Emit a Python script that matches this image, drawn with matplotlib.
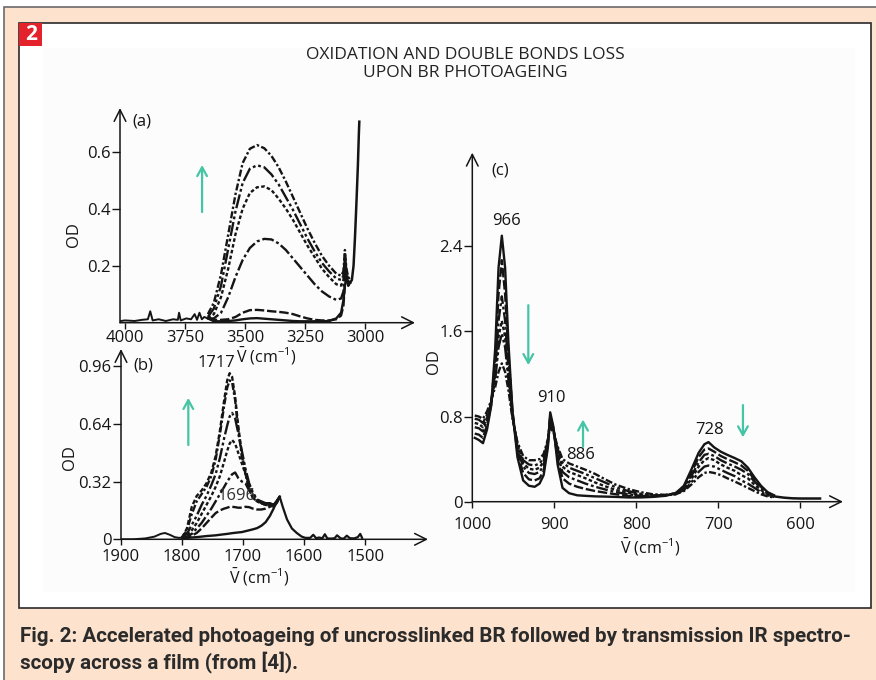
import matplotlib
matplotlib.use("Agg")
import matplotlib.pyplot as plt
from matplotlib.patches import Rectangle

plt.rcParams['font.family'] = ['Open Sans', 'DejaVu Sans']
plt.rcParams['mathtext.fontset'] = 'custom'
plt.rcParams['mathtext.rm'] = 'Open Sans'
plt.rcParams['mathtext.it'] = 'Open Sans:italic'
plt.rcParams['mathtext.bf'] = 'Open Sans:bold'

W, H = 876, 680

# ---------- (a) OH region ----------
a_base_x = [4035, 4000, 3960, 3930, 3905, 3895, 3885, 3860, 3830, 3800, 3780, 3775, 3768, 3745, 3725, 3710, 3700, 3690, 3680, 3670, 3655]
a_base_od = [0.004, 0.008, 0.006, 0.01, 0.012, 0.04, 0.008, 0.012, 0.006, 0.012, 0.01, 0.035, 0.008, 0.015, 0.012, 0.03, 0.01, 0.035, 0.012, 0.02, 0.015]
a_x = [3655, 3630, 3600, 3570, 3540, 3510, 3480, 3450, 3420, 3390, 3360, 3330, 3300, 3270,
       3240, 3210, 3180, 3150, 3120, 3100, 3090, 3084, 3078, 3070, 3062]
a_od = [
    [0.015, 0.005, 0.005, 0.006, 0.008, 0.012, 0.015, 0.016, 0.014, 0.012, 0.01, 0.008, 0.006, 0.005,
     0.005, 0.005, 0.005, 0.006, 0.015, 0.035, 0.08, 0.13, 0.16, 0.14, 0.14],
    [0.015, 0.01, 0.01, 0.012, 0.02, 0.035, 0.044, 0.045, 0.043, 0.04, 0.038, 0.035, 0.03, 0.022,
     0.015, 0.01, 0.008, 0.008, 0.012, 0.025, 0.06, 0.14, 0.15, 0.13, 0.14],
    [0.015, 0.015, 0.035, 0.09, 0.16, 0.22, 0.262, 0.285, 0.294, 0.292, 0.278, 0.255, 0.225, 0.195,
     0.165, 0.135, 0.11, 0.092, 0.08, 0.085, 0.11, 0.2, 0.15, 0.13, 0.14],
    [0.015, 0.03, 0.09, 0.19, 0.31, 0.40, 0.455, 0.475, 0.478, 0.465, 0.435, 0.40, 0.36, 0.315,
     0.27, 0.23, 0.19, 0.16, 0.135, 0.13, 0.15, 0.23, 0.17, 0.14, 0.14],
    [0.02, 0.05, 0.13, 0.26, 0.39, 0.49, 0.54, 0.552, 0.545, 0.52, 0.485, 0.44, 0.395, 0.345,
     0.295, 0.25, 0.21, 0.18, 0.155, 0.15, 0.165, 0.24, 0.18, 0.15, 0.145],
    [0.03, 0.07, 0.17, 0.31, 0.45, 0.56, 0.61, 0.623, 0.612, 0.585, 0.545, 0.495, 0.44, 0.385,
     0.33, 0.28, 0.235, 0.2, 0.172, 0.165, 0.18, 0.255, 0.19, 0.16, 0.15],
]
a_rise_x = [3062, 3055, 3048, 3042, 3036, 3030, 3026, 3024]
a_rise_od = [0.14, 0.15, 0.2, 0.3, 0.42, 0.55, 0.66, 0.705]

# ---------- (b) carbonyl region ----------
b_base_x = [1905, 1880, 1860, 1845, 1835, 1828, 1820, 1812, 1805, 1800]
b_base_od = [0.0, 0.0, 0.005, 0.015, 0.03, 0.035, 0.025, 0.012, 0.008, 0.01]
b_x = [1800, 1792, 1784, 1776, 1768, 1760, 1752, 1745, 1738, 1731, 1726, 1722, 1718,
       1713, 1708, 1702, 1696, 1690, 1684, 1677, 1670, 1663, 1656, 1650, 1645, 1640]
b_od = [
    [0.005, 0.008, 0.01, 0.012, 0.015, 0.018, 0.02, 0.022, 0.025, 0.028, 0.03, 0.032, 0.034,
     0.036, 0.038, 0.04, 0.045, 0.05, 0.055, 0.062, 0.075, 0.095, 0.13, 0.17, 0.21, 0.236],
    [0.005, 0.01, 0.02, 0.035, 0.06, 0.09, 0.12, 0.145, 0.16, 0.17, 0.175, 0.18, 0.18,
     0.178, 0.175, 0.175, 0.18, 0.178, 0.17, 0.165, 0.165, 0.17, 0.18, 0.19, 0.21, 0.236],
    [0.01, 0.015, 0.03, 0.06, 0.09, 0.13, 0.17, 0.21, 0.25, 0.29, 0.32, 0.34, 0.36,
     0.37, 0.34, 0.32, 0.31, 0.27, 0.24, 0.22, 0.2, 0.19, 0.19, 0.18, 0.2, 0.236],
    [0.01, 0.02, 0.05, 0.09, 0.14, 0.19, 0.24, 0.29, 0.35, 0.43, 0.49, 0.53, 0.55,
     0.53, 0.48, 0.42, 0.36, 0.3, 0.25, 0.22, 0.2, 0.19, 0.19, 0.18, 0.2, 0.236],
    [0.01, 0.03, 0.08, 0.13, 0.19, 0.24, 0.30, 0.36, 0.45, 0.56, 0.63, 0.68, 0.70,
     0.67, 0.59, 0.49, 0.39, 0.31, 0.26, 0.22, 0.21, 0.2, 0.2, 0.19, 0.21, 0.236],
    [0.01, 0.05, 0.14, 0.21, 0.25, 0.29, 0.35, 0.44, 0.58, 0.74, 0.84, 0.88, 0.87,
     0.77, 0.61, 0.46, 0.36, 0.28, 0.23, 0.21, 0.2, 0.2, 0.2, 0.19, 0.21, 0.236],
    [0.01, 0.06, 0.18, 0.24, 0.27, 0.31, 0.37, 0.46, 0.60, 0.77, 0.88, 0.92, 0.90,
     0.79, 0.63, 0.47, 0.37, 0.28, 0.23, 0.21, 0.2, 0.2, 0.2, 0.19, 0.21, 0.236],
]
b_tail_x = [1640, 1635, 1628, 1620, 1612, 1604, 1598, 1590, 1585, 1580, 1576, 1570, 1566, 1562,
            1556, 1550, 1546, 1540, 1535, 1530, 1525, 1518, 1512, 1508, 1505]
b_tail_od = [0.236, 0.18, 0.11, 0.06, 0.035, 0.015, 0.008, 0.008, 0.025, 0.005, 0.01, 0.006, 0.028, 0.005,
             0.004, 0.006, 0.022, 0.005, 0.004, 0.02, 0.006, 0.005, 0.012, 0.03, 0.008]

# ---------- (c) C=C region ----------
c_x = [997, 992, 987, 982, 977, 972, 968, 964, 960, 956, 951, 945, 938, 931, 924, 918, 913, 908,
       905, 901, 896, 890, 882, 872, 862, 850, 838, 825, 810, 795, 780, 765, 752, 742, 733, 724,
       717, 712, 705, 697, 689, 680, 672, 664, 656, 648, 640, 632]
c_od = [
    [0.60, 0.58, 0.55, 0.68, 0.90, 1.45, 2.2, 2.5, 2.2, 1.5, 0.85, 0.42, 0.2, 0.15, 0.14, 0.17, 0.25, 0.5,
     0.84, 0.7, 0.35, 0.13, 0.08, 0.06, 0.055, 0.05, 0.048, 0.045, 0.04, 0.04, 0.045, 0.055, 0.08, 0.15, 0.3, 0.46,
     0.54, 0.56, 0.51, 0.47, 0.44, 0.41, 0.38, 0.32, 0.23, 0.15, 0.09, 0.06],
    [0.64, 0.63, 0.60, 0.72, 0.91, 1.35, 1.95, 2.27, 1.95, 1.4, 0.85, 0.46, 0.27, 0.21, 0.2, 0.22, 0.29, 0.52,
     0.81, 0.68, 0.4, 0.22, 0.17, 0.14, 0.12, 0.1, 0.085, 0.07, 0.055, 0.05, 0.05, 0.06, 0.08, 0.14, 0.27, 0.42,
     0.49, 0.5, 0.47, 0.43, 0.4, 0.37, 0.34, 0.29, 0.21, 0.14, 0.085, 0.055],
    [0.70, 0.69, 0.66, 0.76, 0.92, 1.25, 1.7, 1.93, 1.7, 1.25, 0.82, 0.49, 0.33, 0.27, 0.26, 0.28, 0.34, 0.55,
     0.79, 0.68, 0.44, 0.28, 0.23, 0.2, 0.17, 0.14, 0.115, 0.09, 0.07, 0.055, 0.05, 0.06, 0.08, 0.13, 0.24, 0.37,
     0.44, 0.45, 0.43, 0.39, 0.36, 0.33, 0.3, 0.26, 0.19, 0.13, 0.08, 0.05],
    [0.74, 0.73, 0.70, 0.79, 0.93, 1.2, 1.55, 1.70, 1.55, 1.2, 0.8, 0.52, 0.36, 0.31, 0.3, 0.32, 0.38, 0.56,
     0.76, 0.67, 0.47, 0.33, 0.28, 0.25, 0.22, 0.18, 0.145, 0.11, 0.085, 0.065, 0.055, 0.06, 0.075, 0.12, 0.21, 0.33,
     0.39, 0.41, 0.39, 0.35, 0.32, 0.29, 0.25, 0.22, 0.16, 0.11, 0.07, 0.05],
    [0.78, 0.77, 0.74, 0.82, 0.94, 1.15, 1.45, 1.58, 1.45, 1.15, 0.8, 0.54, 0.39, 0.35, 0.34, 0.36, 0.41, 0.57,
     0.73, 0.66, 0.5, 0.37, 0.32, 0.29, 0.26, 0.22, 0.18, 0.135, 0.1, 0.075, 0.06, 0.06, 0.07, 0.11, 0.18, 0.28,
     0.33, 0.34, 0.33, 0.3, 0.27, 0.24, 0.2, 0.17, 0.13, 0.09, 0.06, 0.045],
    [0.81, 0.80, 0.78, 0.85, 0.95, 1.08, 1.22, 1.30, 1.22, 1.05, 0.78, 0.56, 0.43, 0.39, 0.39, 0.4, 0.45, 0.58,
     0.70, 0.65, 0.52, 0.4, 0.36, 0.33, 0.3, 0.26, 0.21, 0.16, 0.12, 0.09, 0.07, 0.065, 0.07, 0.1, 0.16, 0.23,
     0.27, 0.28, 0.27, 0.25, 0.22, 0.19, 0.16, 0.13, 0.1, 0.07, 0.05, 0.04],
]
c_tail_x = [632, 620, 610, 600, 590, 576]
c_tail_od = [0.05, 0.038, 0.032, 0.03, 0.03, 0.03]

caption = ['Fig. 2: Accelerated photoageing of uncrosslinked BR followed by transmission IR spectro-',
           'scopy across a film (from [4]).']

ink = '#151515'
teal = '#45C4A6'
styles = ['-', (0, (4, 1.2)), (0, (5, 1.2, 1.2, 1.2)), (0, (1.5, 1)),
          (0, (6, 1.2, 1.2, 1.2, 1.2, 1.2)), (0, (3, 1, 1, 1)), (0, (2, 1))]


def box(x0, y0, x1, y1):
    return [x0 / W, 1 - y1 / H, (x1 - x0) / W, (y1 - y0) / H]


def rect(x0, y0, x1, y1, **kw):
    return Rectangle((x0 / W, 1 - y1 / H), (x1 - x0) / W, (y1 - y0) / H,
                     transform=fig.transFigure, **kw)


def frame(ax):
    for s in ax.spines.values():
        s.set_visible(False)
    ax.set_facecolor('none')
    arrow = dict(arrowstyle='->,head_length=0.6,head_width=0.3', lw=1.1, color=ink,
                 shrinkA=0, shrinkB=0, mutation_scale=14)
    ax.annotate('', xy=(1, 0), xytext=(0, 0), xycoords='axes fraction', arrowprops=arrow,
                annotation_clip=False)
    ax.annotate('', xy=(0, 1), xytext=(0, 0), xycoords='axes fraction', arrowprops=arrow,
                annotation_clip=False)
    ax.tick_params(axis='y', direction='out', length=6, width=1, pad=1, labelsize=12,
                   colors=ink)
    ax.tick_params(axis='x', direction='out', length=4, width=1, pad=1, labelsize=12,
                   colors=ink)


def teal_arrow(ax, x, y_tail, y_head):
    ax.annotate('', xy=(x, y_head), xytext=(x, y_tail),
                arrowprops=dict(arrowstyle='->,head_length=0.45,head_width=0.25', lw=1.6,
                                color=teal, shrinkA=0, shrinkB=0, mutation_scale=14))


fig = plt.figure(figsize=(W / 100, H / 100), dpi=100)
fig.patch.set_facecolor('white')

# page decoration
fig.add_artist(rect(4, 7, 900, 700, facecolor='#FDE2CD', edgecolor='#6b6b6b', lw=1.2, zorder=-10))
fig.add_artist(rect(19.3, 23.3, 871, 608, facecolor='white', edgecolor='#2a2a2a', lw=1.2, zorder=-9))
fig.add_artist(rect(43, 48, 855, 592, facecolor='#fcfcfc', edgecolor='none', zorder=-8))
fig.add_artist(rect(19.3, 23.3, 42, 46, facecolor='#E4222B', edgecolor='none', zorder=-7))
fig.text(30.7 / W, 1 - 35 / H, '2', color='white', fontsize=15, fontweight='bold',
         ha='center', va='center')

fig.text(465 / W, 1 - 55 / H, 'OXIDATION AND DOUBLE BONDS LOSS', fontsize=12.5, color='#222',
         ha='center', va='center')
fig.text(465 / W, 1 - 73 / H, 'UPON BR PHOTOAGEING', fontsize=12.5, color='#222',
         ha='center', va='center')

xlab = r'$\bar{\mathrm{V}}$ (cm$^{-1}$)'

# panel (a)
ax_a = fig.add_axes(box(120, 108, 415, 322.7))
frame(ax_a)
ax_a.plot(a_base_x, a_base_od, color=ink, lw=1.4)
for i, od in enumerate(a_od):
    ax_a.plot(a_x, od, color=ink, lw=1.7, ls=styles[i])
ax_a.plot(a_rise_x, a_rise_od, color=ink, lw=1.8)
ax_a.set_xlim(4021, 2792)
ax_a.set_ylim(0, 0.753)
ax_a.set_xticks([4000, 3750, 3500, 3250, 3000])
ax_a.set_yticks([0.2, 0.4, 0.6])
ax_a.set_yticklabels(['0.2', '0.4', '0.6'])
ax_a.text(3971, 0.704, '(a)', fontsize=12, color=ink, ha='left', va='center')
teal_arrow(ax_a, 3679, 0.388, 0.553)
fig.text(74 / W, 1 - 235 / H, 'OD', rotation=90, fontsize=12, color=ink, ha='center', va='center')
fig.text(266 / W, 1 - 356 / H, xlab, fontsize=11.5, color=ink, ha='center', va='center')

# panel (b)
ax_b = fig.add_axes(box(121, 349, 428, 539.3))
frame(ax_b)
ax_b.plot(b_base_x, b_base_od, color=ink, lw=1.4)
for i, od in enumerate(b_od):
    ax_b.plot(b_x, od, color=ink, lw=1.7, ls=styles[i])
ax_b.plot(b_tail_x, b_tail_od, color=ink, lw=1.6)
ax_b.set_xlim(1900, 1397)
ax_b.set_ylim(0, 1.054)
ax_b.set_xticks([1900, 1800, 1700, 1600, 1500])
ax_b.set_yticks([0, 0.32, 0.64, 0.96])
ax_b.set_yticklabels(['0', '0.32', '0.64', '0.96'])
ax_b.tick_params(axis='x', pad=3)
ax_b.text(1880, 0.96, '(b)', fontsize=12, color=ink, ha='left', va='center')
ax_b.text(1743, 0.977, '1717', fontsize=12, color=ink, ha='center', va='center')
ax_b.text(1711, 0.24, '1696', fontsize=12, color='#333', ha='center', va='center')
teal_arrow(ax_b, 1789.7, 0.522, 0.783)
fig.text(70 / W, 1 - 458 / H, 'OD', rotation=90, fontsize=12, color=ink, ha='center', va='center')
fig.text(259 / W, 1 - 577 / H, xlab, fontsize=11.5, color=ink, ha='center', va='center')

# panel (c)
ax_c = fig.add_axes(box(472.3, 152.7, 843, 501.7))
frame(ax_c)
for i, od in enumerate(c_od):
    ax_c.plot(c_x, od, color=ink, lw=1.7, ls=styles[i])
ax_c.plot(c_tail_x, c_tail_od, color=ink, lw=1.8)
ax_c.set_xlim(1000, 548)
ax_c.set_ylim(0, 3.28)
ax_c.set_xticks([1000, 900, 800, 700, 600])
ax_c.set_yticks([0, 0.8, 1.6, 2.4])
ax_c.set_yticklabels(['0', '0.8', '1.6', '2.4'])
ax_c.tick_params(axis='x', pad=7)
ax_c.text(976.3, 3.11, '(c)', fontsize=12, color=ink, ha='left', va='center')
ax_c.text(958, 2.636, '966', fontsize=12, color=ink, ha='center', va='center')
ax_c.text(903, 0.971, '910', fontsize=12, color=ink, ha='center', va='center')
ax_c.text(868, 0.438, '886', fontsize=12, color=ink, ha='center', va='center')
ax_c.text(711, 0.673, '728', fontsize=12, color=ink, ha='center', va='center')
teal_arrow(ax_c, 931.7, 1.847, 1.284)
teal_arrow(ax_c, 865, 0.516, 0.772)
teal_arrow(ax_c, 670, 0.908, 0.605)
fig.text(434 / W, 1 - 362 / H, 'OD', rotation=90, fontsize=12, color=ink, ha='center', va='center')
fig.text(650 / W, 1 - 547 / H, xlab, fontsize=11.5, color=ink, ha='center', va='center')

# caption, sized so the first line spans the box width
cap_font = ['Roboto', 'Open Sans', 'DejaVu Sans']
cap1 = fig.text(20 / W, 1 - 636 / H, caption[0], family=cap_font, fontsize=15,
                fontweight='bold', color='#2b2b2b', ha='left', va='center')
cap2 = fig.text(20 / W, 1 - 662 / H, caption[1], family=cap_font, fontsize=15,
                fontweight='bold', color='#2b2b2b', ha='left', va='center')
fig.canvas.draw()
w1 = cap1.get_window_extent().width
fs = 15 * 836 / w1
cap1.set_fontsize(fs)
cap2.set_fontsize(fs)

fig.savefig('out.png', dpi=100, facecolor=fig.get_facecolor())
